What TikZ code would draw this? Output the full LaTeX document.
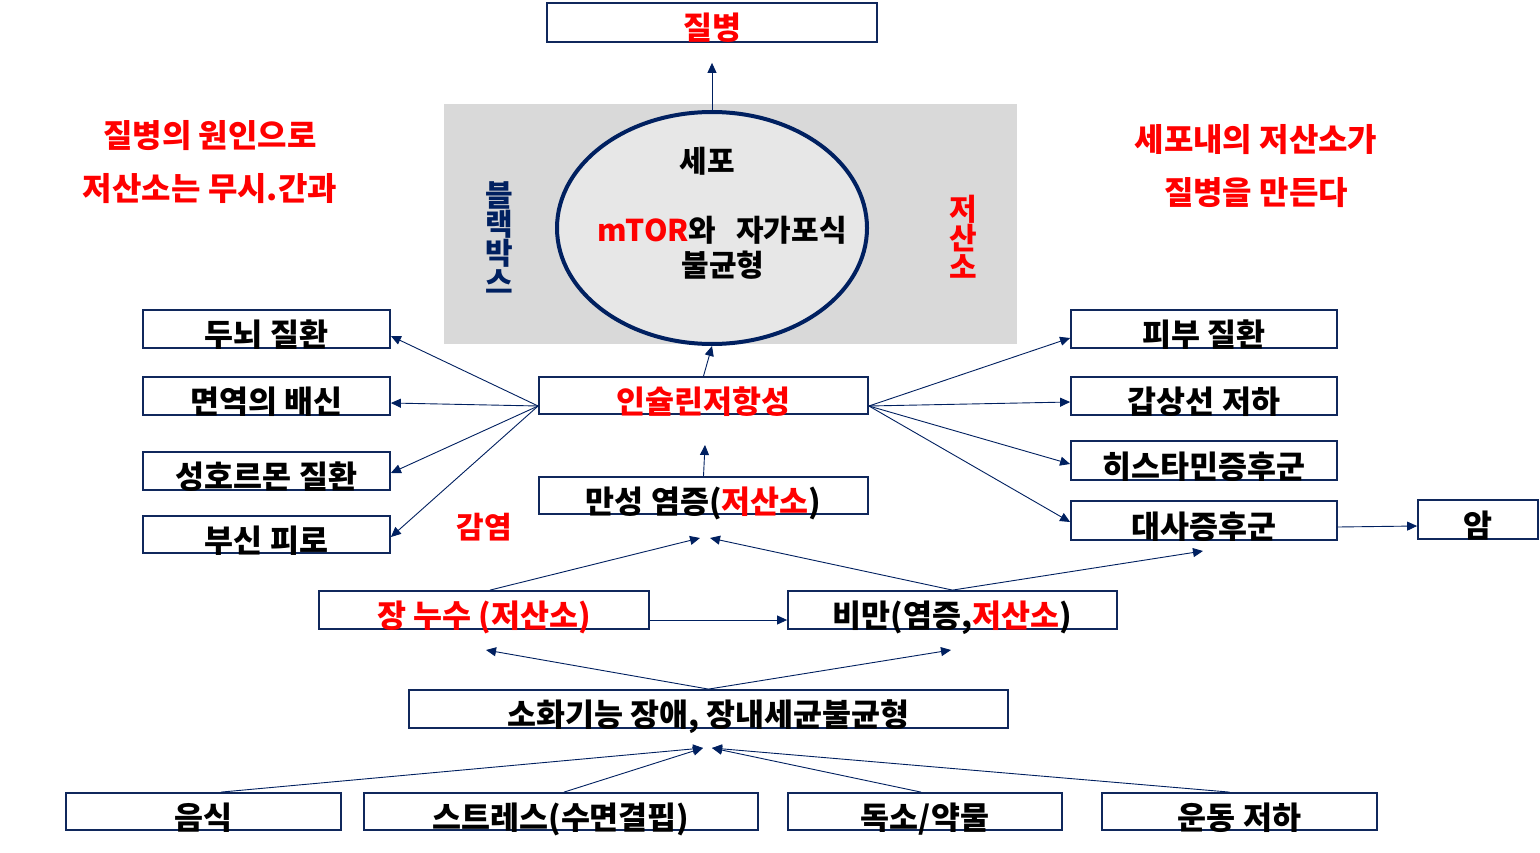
\documentclass[tikz,border=0pt]{standalone}
\usepackage{fontspec}
\setmainfont{Noto Sans CJK KR}
\usetikzlibrary{arrows.meta,shapes.geometric}
\definecolor{navy}{RGB}{0,32,96}
\definecolor{boxline}{RGB}{16,40,92}
\definecolor{myred}{RGB}{255,0,0}
\definecolor{bggray}{RGB}{217,217,217}
\definecolor{cellfill}{RGB}{231,231,231}
\newcommand\bt[1]{\raisebox{-17.5pt}[0pt][0pt]{#1}}
\newcommand\rd[1]{\textcolor{myred}{#1}}
\tikzset{
  box/.style={draw=boxline, line width=1.8pt, fill=white, inner sep=0pt,
    font=\fontsize{31.5}{34}\selectfont\bfseries},
  arr/.style={draw=navy, line width=0.9pt, -{Triangle[length=10pt,width=9pt]}},
  redtxt/.style={text=myred, font=\fontsize{32}{34}\selectfont\bfseries, inner sep=0pt},
  celltxt/.style={font=\fontsize{30}{32}\selectfont\bfseries, inner sep=0pt},
  vert/.style={font=\fontsize{30}{29}\selectfont\bfseries, align=center, inner sep=0pt},
}
\begin{document}
\begin{tikzpicture}[x=1pt,y=-1pt]
\path[use as bounding box, fill=white] (0,0) rectangle (1540,853);
% black box background
\fill[bggray] (444,104) rectangle (1017,344);
\node[ellipse, draw=navy, line width=4pt, fill=cellfill, minimum width=310pt, minimum height=232pt, inner sep=0pt] (cell) at (712,228) {};
\node[celltxt] (sepo) at (707,161) {세포};
\node[celltxt] (mtor) at (722,230) {\rd{mTOR}와\hspace{20pt}자가포식};
\node[celltxt] (imbal) at (723,265) {불균형};
\node[vert, text=navy] (blackbox) at (499,238) {블\\랙\\박\\스};
\node[vert, text=myred] (hypoxR) at (963,237) {저\\산\\소};

% side texts
\node[redtxt] (l1) at (210,136) {질병의 원인으로};
\node[redtxt] (l2) at (210,189) {저산소는 무시.간과};
\node[redtxt] (r1) at (1256,140) {세포내의 저산소가};
\node[redtxt] (r2) at (1256,193) {질병을 만든다};
\node[redtxt, font=\fontsize{30}{32}\selectfont\bfseries] (infect) at (484,527) {감염};

% boxes
\node[box, minimum width=330pt, minimum height=39pt] (disease) at (712,22.5) {\bt{\rd{질병}}};
\node[box, minimum width=247pt, minimum height=38pt] (brain) at (266.5,329) {\bt{두뇌 질환}};
\node[box, minimum width=247pt, minimum height=38pt] (immune) at (266.5,396) {\bt{면역의 배신}};
\node[box, minimum width=247pt, minimum height=38pt] (hormone) at (266.5,471) {\bt{성호르몬 질환}};
\node[box, minimum width=247pt, minimum height=37pt] (adrenal) at (266.5,534.5) {\bt{부신 피로}};
\node[box, minimum width=329pt, minimum height=37pt] (ins) at (703.5,395.5) {\bt{\rd{인슐린저항성}}};
\node[box, minimum width=329pt, minimum height=37pt] (inflam) at (703.5,495.5) {\bt{만성 염증(\rd{저산소})}};
\node[box, minimum width=266pt, minimum height=38pt] (skin) at (1204,329) {\bt{피부 질환}};
\node[box, minimum width=266pt, minimum height=38pt] (thyroid) at (1204,396) {\bt{갑상선 저하}};
\node[box, minimum width=266pt, minimum height=39pt] (hist) at (1204,460.5) {\bt{히스타민증후군}};
\node[box, minimum width=266pt, minimum height=39pt] (meta) at (1204,520.5) {\bt{대사증후군}};
\node[box, minimum width=120pt, minimum height=39pt] (cancer) at (1478,519.5) {\bt{암}};
\node[box, minimum width=330pt, minimum height=38pt] (leak) at (484,610) {\bt{\rd{장 누수 (저산소)}}};
\node[box, minimum width=329pt, minimum height=38pt] (obese) at (952.5,610) {\bt{비만(염증,\rd{저산소})}};
\node[box, minimum width=599pt, minimum height=38pt] (digest) at (708.5,709) {\bt{소화기능 장애, 장내세균불균형}};
\node[box, minimum width=275pt, minimum height=37pt] (food) at (203.5,811.5) {\bt{음식}};
\node[box, minimum width=394pt, minimum height=37pt] (stress) at (561,811.5) {\bt{스트레스(수면결핍)}};
\node[box, minimum width=274pt, minimum height=37pt] (toxin) at (925,811.5) {\bt{독소/약물}};
\node[box, minimum width=275pt, minimum height=37pt] (exer) at (1239.5,811.5) {\bt{운동 저하}};

% free arrow ends
\coordinate (t1) at (700,538);
\coordinate (t2) at (710,538);
\coordinate (t3) at (1203,551);
\coordinate (t4) at (486,650);
\coordinate (t5) at (951,650);
\coordinate (t6) at (703,748);
\coordinate (t7) at (712,748);
\coordinate (t9) at (705,445);

% connectors
\draw[arr] (cell.north) -- ([yshift=-20pt]disease.south);
\draw[arr] (ins.north) -- (cell.south);
\draw[arr] (inflam.north) -- (t9);
\draw[arr] ([yshift=-10.5pt]ins.west) -- ([yshift=-7pt]brain.east);
\draw[arr] ([yshift=-10.5pt]ins.west) -- ([yshift=-7pt]immune.east);
\draw[arr] ([yshift=-10.5pt]ins.west) -- ([yshift=-2pt]hormone.east);
\draw[arr] ([yshift=-10.5pt]ins.west) -- ([yshift=-2.5pt]adrenal.east);
\draw[arr] ([yshift=-10.5pt]ins.east) -- ([yshift=-9pt]skin.west);
\draw[arr] ([yshift=-10.5pt]ins.east) -- ([yshift=-6pt]thyroid.west);
\draw[arr] ([yshift=-10.5pt]ins.east) -- ([yshift=-3.5pt]hist.west);
\draw[arr] ([yshift=-10.5pt]ins.east) -- ([yshift=-1.5pt]meta.west);
\draw[arr] ([yshift=-6.5pt]meta.east) -- ([yshift=-6.5pt]cancer.west);
\draw[arr] ([xshift=6pt]leak.north) -- (t1);
\draw[arr] (obese.north) -- (t2);
\draw[arr] (obese.north) -- (t3);
\draw[arr] ([yshift=-10pt]leak.east) -- ([yshift=-10pt]obese.west);
\draw[arr] (digest.north) -- (t4);
\draw[arr] (digest.north) -- (t5);
\draw[arr] ([xshift=17.5pt]food.north) -- (t6);
\draw[arr] ([xshift=3pt]stress.north) -- (t6);
\draw[arr] ([xshift=-4pt]toxin.north) -- (t7);
\draw[arr] ([xshift=-10pt]exer.north) -- (t7);
\end{tikzpicture}
\end{document}
